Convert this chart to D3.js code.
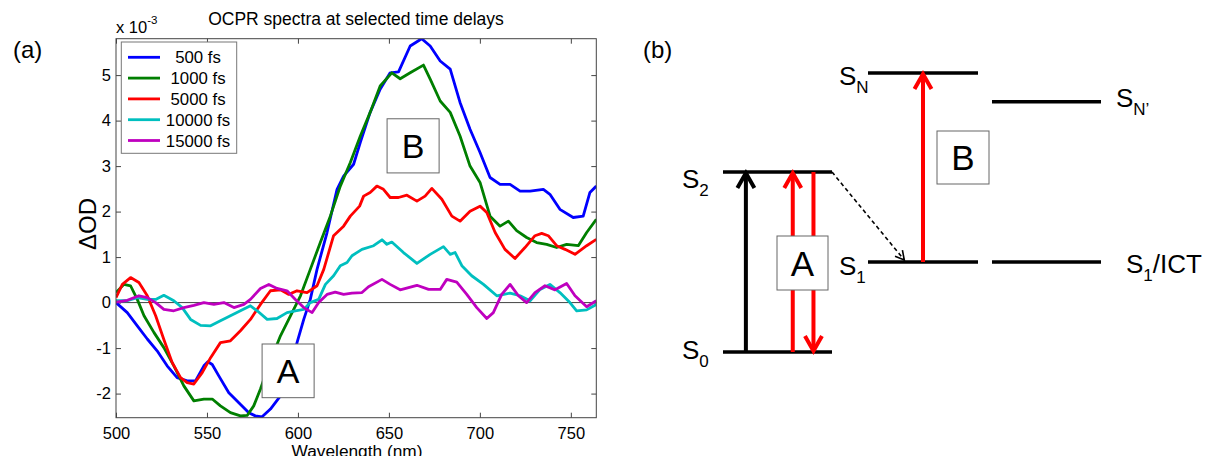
<!DOCTYPE html>
<html>
<head>
<meta charset="utf-8">
<script src="https://cdn.jsdelivr.net/npm/d3@7"></script>
<style>
  body { margin: 0; background: #fff; }
  svg { display: block; font-family: "Liberation Sans", Arial, Helvetica, sans-serif; }
</style>
</head>
<body>
<div id="chart"></div>
<script>
// ---- data: panel (a), OCPR spectra, [wavelength nm, dOD x 1e-3] ----
const delays = ["500 fs", "1000 fs", "5000 fs", "10000 fs", "15000 fs"];
const colors = ["#0000ff", "#007f00", "#ff0000", "#00bfbf", "#bf00bf"];
const wavelengthTicks = [500, 550, 600, 650, 700, 750];
const odTicks = [-2, -1, 0, 1, 2, 3, 4, 5];

const s500 = [[500,0.0],[506.2,-0.22],[511.7,-0.51],[517.2,-0.8],[522.6,-1.06],[528.1,-1.39],[533.6,-1.65],[539.1,-1.72],
  [543.7,-1.72],[548.3,-1.39],[550.5,-1.30],[552.9,-1.36],[556.5,-1.61],[562,-1.98],[567.5,-2.2],[573,-2.42],[576.6,-2.49],
  [580.3,-2.51],[584.9,-2.34],[590.4,-2.05],[595.9,-1.47],[599.5,-0.88],[603.2,-0.37],[606.8,0.07],[610.5,0.73],[616,1.54],
  [621.5,2.49],[625.1,2.78],[630.6,3.04],[634.3,3.52],[639.7,4.18],[645.2,4.69],[650.7,5.05],[655.3,5.07],[661.7,5.64],
  [668,5.80],[672.7,5.64],[678.2,5.31],[683.7,5.13],[689.1,4.40],[694.6,3.81],[700.1,3.30],[705.6,2.75],[711.1,2.60],
  [716.6,2.60],[722.1,2.45],[727.6,2.45],[734.9,2.49],[738.5,2.38],[744,2.05],[751.3,1.87],[756.8,1.90],[760.5,2.42],[764,2.56]];
const s1000 = [[500,0.22],[504.4,0.40],[508,0.37],[511.7,0.07],[515.4,-0.29],[520.9,-0.66],[526.3,-0.99],[531.8,-1.39],
  [537.3,-1.83],[542.8,-2.16],[548.3,-2.12],[552.9,-2.12],[557.4,-2.27],[562.9,-2.42],[568.4,-2.49],[572.1,-2.48],[575.7,-2.27],
  [579.4,-1.90],[584.9,-1.28],[590.4,-0.73],[595.9,-0.29],[601.4,0.15],[606.8,0.73],[612.3,1.32],[617.8,1.90],[623.3,2.56],
  [628.8,3.08],[634.3,3.66],[639.7,4.18],[645.2,4.76],[651.6,5.05],[656.2,4.92],[661.7,5.05],[669,5.22],[672.7,4.91],
  [678.2,4.43],[683.7,4.18],[689.1,3.66],[694.6,3.00],[700.1,2.64],[705.6,1.90],[711.1,1.68],[715.7,1.79],[720.2,1.58],
  [725.7,1.43],[731.2,1.32],[736.7,1.28],[742.2,1.21],[747.7,1.28],[754.1,1.25],[758.7,1.54],[764,1.83]];
const s5000 = [[500,0.11],[503.5,0.40],[508,0.55],[512.6,0.44],[517.2,0.15],[521.8,-0.29],[526.3,-0.81],[530.9,-1.32],
  [535.5,-1.65],[539.1,-1.76],[542.8,-1.79],[547.4,-1.54],[552,-1.21],[557.4,-0.88],[562.9,-0.84],[568.4,-0.62],[573.9,-0.37],
  [579.4,-0.04],[584.9,0.26],[590.4,0.28],[595,0.18],[599.5,0.26],[605,0.22],[610.5,0.37],[614.2,0.73],[619.6,1.47],
  [625.1,1.68],[628.8,1.90],[633.9,2.12],[636.1,2.34],[639.7,2.42],[643.4,2.56],[647,2.49],[650.7,2.31],[655.3,2.31],
  [659.9,2.36],[665.4,2.23],[669.9,2.34],[673.6,2.51],[679.1,2.27],[684.6,1.90],[689.1,1.79],[694.6,2.01],[700.1,2.12],
  [703.8,1.98],[708.4,1.54],[713.8,1.17],[719.3,0.97],[724.8,1.21],[730.3,1.47],[734,1.52],[737.6,1.47],[742.2,1.25],
  [746.8,1.17],[752.3,1.06],[758.7,1.25],[764,1.39]];
const s10000 = [[500,0.04],[506.2,0.04],[511.7,0.11],[517.2,0.07],[521.8,0.07],[526.3,0.16],[531.8,0.04],[536.4,-0.11],
  [541,-0.37],[546.5,-0.50],[552,-0.51],[557.4,-0.40],[562.9,-0.29],[568.4,-0.18],[573.9,-0.07],[577.6,-0.18],[583.1,-0.37],
  [588.5,-0.35],[594,-0.22],[598.6,-0.18],[603.2,-0.15],[606.8,0.0],[611.4,0.07],[615.1,0.40],[619.6,0.59],[623.3,0.81],
  [627,0.88],[629.7,1.03],[635.2,1.17],[641.6,1.25],[646.2,1.38],[648.9,1.28],[651.6,1.33],[658,1.10],[665.4,0.86],
  [672.7,1.06],[680,1.23],[683.7,1.06],[686.4,1.10],[690.1,0.81],[695.5,0.59],[702,0.40],[709.3,0.15],[716.6,0.21],
  [722.1,0.15],[727.6,0.04],[733.1,0.29],[738.5,0.40],[744,0.22],[749.5,0.0],[753.2,-0.18],[758.7,-0.16],[764,-0.04]];
const s15000 = [[500,0.01],[506.2,0.05],[512.6,0.15],[517.2,0.11],[521.8,0.0],[526.3,-0.15],[531.8,-0.18],[537.3,-0.11],
  [542.8,-0.06],[548.3,0.0],[553.8,-0.04],[559.3,0.0],[564.8,-0.11],[570.3,-0.04],[573.9,0.07],[579.4,0.31],[584,0.40],
  [588.5,0.31],[594,0.26],[598.6,0.07],[603.2,-0.11],[607.8,-0.22],[611.4,0.0],[616,0.18],[620.5,0.23],[625.1,0.18],
  [629.7,0.21],[635.2,0.22],[638.8,0.35],[646.2,0.51],[650.7,0.40],[656.2,0.28],[665.4,0.38],[671.8,0.29],[678.2,0.29],
  [681.8,0.51],[687.3,0.45],[692.8,0.18],[698.3,-0.11],[703.8,-0.35],[707.4,-0.22],[712,0.18],[716.6,0.40],[721.2,0.15],
  [725.7,0.0],[730.3,0.22],[735.8,0.37],[741.3,0.28],[747.7,0.42],[752.3,0.15],[758.7,-0.09],[764,0.04]];
const spectra = [s500, s1000, s5000, s10000, s15000];

// ---- data: panel (b), energy level scheme (relative energies) ----
const levelIds = ["S0", "S1", "S2", "SN'", "SN", "S1/ICT"];
const levelEnergy = [0, 1, 2, 2.78, 3.1, 1];
const levelColumn = [0, 1, 0, 2, 1, 2];
// transitions: from level, to level, column, position along the level (0..1), colour
const transFrom = ["S0", "S0", "S2", "S1"];
const transTo = ["S2", "S2", "S0", "SN"];
const transColumn = [0, 0, 0, 1];
const transPos = [0.21, 0.64, 0.83, 0.5];
const transColor = ["#000", "#ff0000", "#ff0000", "#ff0000"];

const W = 1211, H = 456;
const svg = d3.select("#chart").append("svg").attr("width", W).attr("height", H);

// ================= panel (a) =================
const plot = { left: 116, right: 596.3, top: 38.7, bottom: 417.7 };
const x = d3.scaleLinear().domain([500, 764]).range([plot.left, plot.right]);
const y = d3.scaleLinear().domain([-2.53, 5.80]).range([plot.bottom, plot.top]);
const axisColor = "#444";

svg.append("clipPath").attr("id", "plotclip")
  .append("rect")
  .attr("x", plot.left).attr("y", plot.top)
  .attr("width", plot.right - plot.left).attr("height", plot.bottom - plot.top);

function styleAxis(g) {
  g.select(".domain").remove();
  g.selectAll(".tick line").attr("stroke", axisColor);
  g.selectAll(".tick text").attr("fill", "#000").attr("font-size", 16.5)
    .attr("font-family", "Liberation Sans, Arial, sans-serif");
}

svg.append("g").attr("transform", `translate(0,${plot.bottom})`)
  .call(d3.axisBottom(x).tickValues(wavelengthTicks).tickSize(-5).tickPadding(10))
  .call(styleAxis);
svg.append("g").attr("transform", `translate(0,${plot.top})`)
  .call(d3.axisTop(x).tickValues(wavelengthTicks).tickSize(-5).tickFormat(""))
  .call(styleAxis);
svg.append("g").attr("transform", `translate(${plot.left},0)`)
  .call(d3.axisLeft(y).tickValues(odTicks).tickSize(-5).tickPadding(5).tickFormat(d => String(d)))
  .call(styleAxis);
svg.append("g").attr("transform", `translate(${plot.right},0)`)
  .call(d3.axisRight(y).tickValues(odTicks).tickSize(-5).tickFormat(""))
  .call(styleAxis);

// zero line
svg.append("line")
  .attr("x1", x(500)).attr("x2", x(764)).attr("y1", y(0)).attr("y2", y(0))
  .attr("stroke", axisColor).attr("stroke-width", 1);

const line = d3.line().x(d => x(d[0])).y(d => y(d[1]));
svg.append("g").attr("clip-path", "url(#plotclip)")
  .selectAll("path")
  .data(spectra)
  .enter()
  .append("path")
  .attr("d", line)
  .attr("fill", "none")
  .attr("stroke", (d, i) => colors[i])
  .attr("stroke-width", 2.8)
  .attr("stroke-linejoin", "round");

// frame
svg.append("rect")
  .attr("x", plot.left).attr("y", plot.top)
  .attr("width", plot.right - plot.left).attr("height", plot.bottom - plot.top)
  .attr("fill", "none").attr("stroke", axisColor).attr("stroke-width", 1);

// annotation boxes A / B in data units
const boxesA = [
  { label: "A", wl: [580.3, 608.9], od: [-2.09, -0.91] },
  { label: "B", wl: [649.0, 677.6], od: [2.85, 4.04] }
];
const ab = svg.selectAll(".abox").data(boxesA).enter().append("g").attr("class", "abox");
ab.append("rect")
  .attr("x", d => x(d.wl[0])).attr("y", d => y(d.od[1]))
  .attr("width", d => x(d.wl[1]) - x(d.wl[0])).attr("height", d => y(d.od[0]) - y(d.od[1]))
  .attr("fill", "#fff").attr("stroke", "#666").attr("stroke-width", 1);
ab.append("text")
  .attr("x", d => (x(d.wl[0]) + x(d.wl[1])) / 2)
  .attr("y", d => (y(d.od[0]) + y(d.od[1])) / 2 + 12)
  .attr("text-anchor", "middle").attr("font-size", 34)
  .text(d => d.label);

// legend
const legend = svg.append("g");
legend.append("rect")
  .attr("x", 121.3).attr("y", 42).attr("width", 115.4).attr("height", 111.3)
  .attr("fill", "#fff").attr("stroke", "#777").attr("stroke-width", 1);
const rows = legend.selectAll(".row").data(delays).enter().append("g")
  .attr("transform", (d, i) => `translate(0,${57.3 + i * 20.8})`);
rows.append("line")
  .attr("x1", 128).attr("x2", 160).attr("y1", 0).attr("y2", 0)
  .attr("stroke", (d, i) => colors[i]).attr("stroke-width", 2.8);
rows.append("text")
  .attr("x", 198).attr("y", 6)
  .attr("text-anchor", "middle").attr("font-size", 16.8)
  .text(d => d);

// titles and labels
svg.append("text").attr("x", 356).attr("y", 25).attr("text-anchor", "middle")
  .attr("font-size", 17.5).text("OCPR spectra at selected time delays");
const expo = svg.append("text").attr("x", 116).attr("y", 33).attr("font-size", 16.5);
expo.append("tspan").text("x 10");
expo.append("tspan").attr("font-size", 11.5).attr("dy", -9).text("-3");
svg.append("text").attr("x", 13).attr("y", 58).attr("font-size", 24).text("(a)");
svg.append("text").attr("transform", "translate(96,224) rotate(-90)")
  .attr("text-anchor", "middle").attr("font-size", 24).text("\u0394OD");
svg.append("text").attr("x", 357).attr("y", 456.5).attr("text-anchor", "middle")
  .attr("font-size", 17.3).text("Wavelength (nm)");

// ================= panel (b) =================
svg.append("text").attr("x", 643).attr("y", 58).attr("font-size", 24).text("(b)");

const energyY = d3.scaleLinear().domain([0, 3.1]).range([352, 73]);
const columnX0 = [723, 868, 992];
const columnW = [109, 110, 109];
const levelY = id => energyY(levelEnergy[levelIds.indexOf(id)]);

// level lines
svg.append("g").selectAll("line").data(levelIds).enter().append("line")
  .attr("x1", (d, i) => columnX0[levelColumn[i]])
  .attr("x2", (d, i) => columnX0[levelColumn[i]] + columnW[levelColumn[i]])
  .attr("y1", (d, i) => energyY(levelEnergy[i]))
  .attr("y2", (d, i) => energyY(levelEnergy[i]))
  .attr("stroke", "#000").attr("stroke-width", 3.4);

// level labels: S glyph + subscript (+ tail)
const labelParts = {
  "S0": ["0", "", 682, 359], "S2": ["2", "", 682, 188], "S1": ["1", "", 839, 275],
  "SN": ["N", "", 839, 85], "SN'": ["N\u2019", "", 1116, 107], "S1/ICT": ["1", "/ICT", 1126, 273]
};
Object.keys(labelParts).forEach(k => {
  const p = labelParts[k];
  const t = svg.append("text").attr("x", p[2]).attr("y", p[3]).attr("font-size", 26);
  t.append("tspan").text("S");
  t.append("tspan").attr("font-size", 17).attr("dy", 8).text(p[0]);
  if (p[1]) t.append("tspan").attr("dy", -8).text(p[1]);
});

// vertical transitions
function chevron(tx, ty, dir, w, h) {
  // dir = -1 : arrow points up, arms below the tip
  return `M${tx - w},${ty - dir * h}L${tx},${ty}L${tx + w},${ty - dir * h}`;
}
const trans = svg.append("g");
transFrom.forEach((f, i) => {
  const col = transColumn[i];
  const tx = columnX0[col] + transPos[i] * columnW[col];
  const y0 = levelY(f), y1 = levelY(transTo[i]);
  const dir = y1 < y0 ? -1 : 1;
  const tipY = y1 - dir * 1;
  trans.append("line").attr("x1", tx).attr("x2", tx).attr("y1", y0).attr("y2", tipY)
    .attr("stroke", transColor[i]).attr("stroke-width", 4);
  trans.append("path").attr("d", chevron(tx, tipY, dir, 8.5, 15))
    .attr("fill", "none").attr("stroke", transColor[i]).attr("stroke-width", 4)
    .attr("stroke-linejoin", "miter");
});

// dashed relaxation S2 -> S1
const dx0 = columnX0[0] + columnW[0], dy0 = levelY("S2");
const dx1 = columnX0[1] + 0.33 * columnW[1], dy1 = levelY("S1") - 2;
svg.append("line").attr("x1", dx0).attr("y1", dy0).attr("x2", dx1).attr("y2", dy1)
  .attr("stroke", "#000").attr("stroke-width", 1.6).attr("stroke-dasharray", "4,3");
const ang = Math.atan2(dy1 - dy0, dx1 - dx0);
const hl = 10, hw = 0.5;
svg.append("path")
  .attr("d", `M${dx1 - hl * Math.cos(ang - hw)},${dy1 - hl * Math.sin(ang - hw)}L${dx1},${dy1}L${dx1 - hl * Math.cos(ang + hw)},${dy1 - hl * Math.sin(ang + hw)}`)
  .attr("fill", "none").attr("stroke", "#000").attr("stroke-width", 1.6);

// boxes A / B on the scheme
const boxesB = [
  { label: "A", x0: 777, x1: 828, y0: 236, y1: 290 },
  { label: "B", x0: 937, x1: 989, y0: 131, y1: 184 }
];
const bb = svg.selectAll(".bbox").data(boxesB).enter().append("g").attr("class", "bbox");
bb.append("rect")
  .attr("x", d => d.x0).attr("y", d => d.y0)
  .attr("width", d => d.x1 - d.x0).attr("height", d => d.y1 - d.y0)
  .attr("fill", "#fff").attr("stroke", "#666").attr("stroke-width", 1);
bb.append("text")
  .attr("x", d => (d.x0 + d.x1) / 2).attr("y", d => (d.y0 + d.y1) / 2 + 12.5)
  .attr("text-anchor", "middle").attr("font-size", 35)
  .text(d => d.label);
</script>
</body>
</html>
